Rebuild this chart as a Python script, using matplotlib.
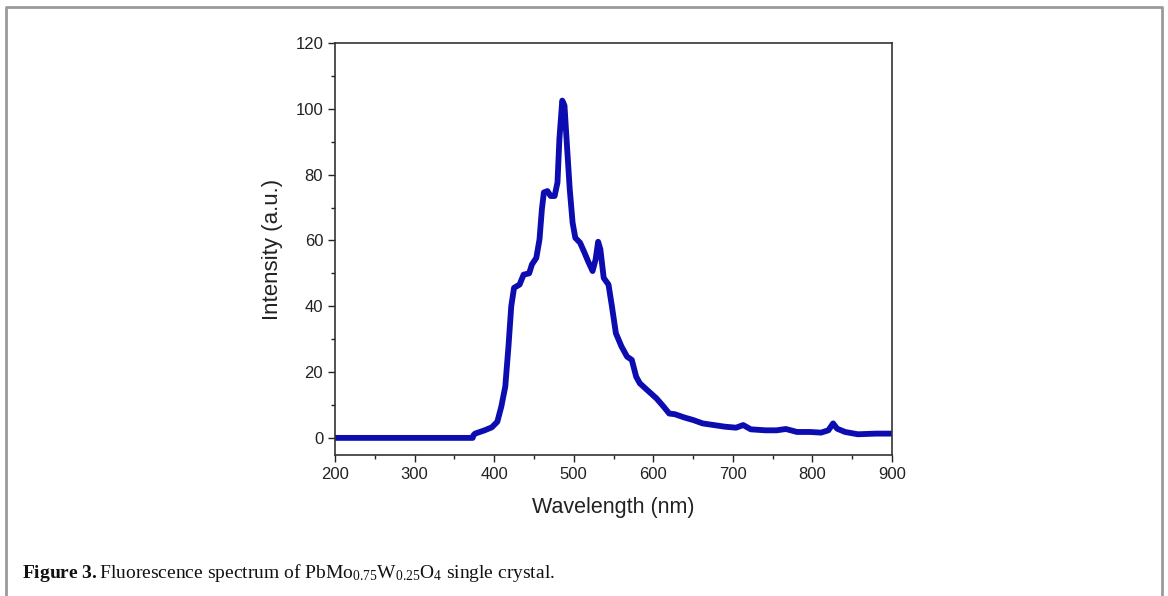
import numpy as np
import matplotlib
matplotlib.use("Agg")
import matplotlib.pyplot as plt
from matplotlib.ticker import MultipleLocator

# spectrum
wavelength = [200, 300, 373, 374, 376, 388, 397, 404, 409, 414, 418, 421.5, 425, 432,
              437, 444, 447.5, 453, 457, 460, 462.5, 467, 471, 476, 479.6, 482,
              485.6, 488.4, 491, 495, 498.6, 502, 508, 513.5, 518, 523.7, 527.5,
              530.7, 533.5, 537.7, 543.7, 548, 553, 560, 567, 573, 578.5, 583,
              592.5, 604, 613, 620, 627, 639, 650.5, 662, 676, 690, 704, 713,
              722.5, 741, 755, 766.6, 780.6, 797, 810.8, 820, 826, 831, 841,
              857, 880, 899]
intensity = [0, 0, 0, 0.8, 1.3, 2.3, 3.2, 4.9, 9.5, 15.6, 27.8, 40, 45.6, 46.6,
             49.6, 50, 52.7, 54.7, 60.3, 69.5, 74.6, 75, 73.5, 73.5, 77.6, 90.8,
             102.5, 101, 90.8, 75.6, 65.4, 60.8, 59.3, 56.3, 53.7, 50.7, 54.2,
             59.6, 57.3, 48.6, 46.6, 40, 31.8, 27.8, 24.7, 23.7, 18.6, 16.6,
             14.5, 12, 9.5, 7.4, 7.2, 6.2, 5.4, 4.4, 3.9, 3.4, 3.1, 3.9,
             2.6, 2.3, 2.3, 2.7, 1.8, 1.8, 1.6, 2.3, 4.4, 2.8, 1.8,
             1.1, 1.3, 1.3]

x_ticks = [200, 300, 400, 500, 600, 700, 800, 900]
y_ticks = [0, 20, 40, 60, 80, 100, 120]

plt.rcParams['font.family'] = ['Liberation Sans', 'DejaVu Sans']
plt.rcParams['mathtext.fontset'] = 'custom'
plt.rcParams['mathtext.rm'] = 'Liberation Serif'
plt.rcParams['mathtext.it'] = 'Liberation Serif:italic'
plt.rcParams['mathtext.bf'] = 'Liberation Serif:bold'

fig = plt.figure(figsize=(11.68, 5.96), dpi=100)
ax = fig.add_axes([335/1168, 1-455/596, (892-335)/1168, (455-43)/596])

ax.plot(wavelength, intensity, color='#0c0cb0', lw=4.2,
        solid_joinstyle='round', solid_capstyle='round')

ax.set_xlim(200, 900)
ax.set_ylim(-5.2, 120)
ax.set_xticks(x_ticks)
ax.set_yticks(y_ticks)
ax.xaxis.set_minor_locator(MultipleLocator(50))
ax.yaxis.set_minor_locator(MultipleLocator(10))
ax.tick_params(which='both', direction='out', top=False, right=False,
               labelsize=12, color='#222222', labelcolor='#222222')
ax.tick_params(which='major', length=5, width=1)
ax.tick_params(which='minor', length=3, width=1)
for s in ax.spines.values():
    s.set_color('#333333')
    s.set_linewidth(1.2)

ax.set_xlabel('Wavelength (nm)', fontsize=15.5, color='#222222', labelpad=11)
ax.set_ylabel('Intensity (a.u.)', fontsize=16, color='#222222', labelpad=9)

# page frame around the figure (no bottom edge)
frame_x = [6/1168, 6/1168, 1162/1168, 1162/1168]
frame_y = [0, 1-6.5/596, 1-6.5/596, 0]
fig.add_artist(plt.Line2D(frame_x, frame_y, transform=fig.transFigure,
                          color='#9a9a9a', lw=2))

fig.text(22/1168, 1-578/596,
         r'$\mathbf{Figure\ 3.}$Fluorescence spectrum of PbMo$_{0.75}$W$_{0.25}$O$_4$ single crystal.',
         fontsize=14, family=['Liberation Serif', 'DejaVu Serif'], color='#111111',
         va='baseline')

fig.savefig('out.png', dpi=100)
